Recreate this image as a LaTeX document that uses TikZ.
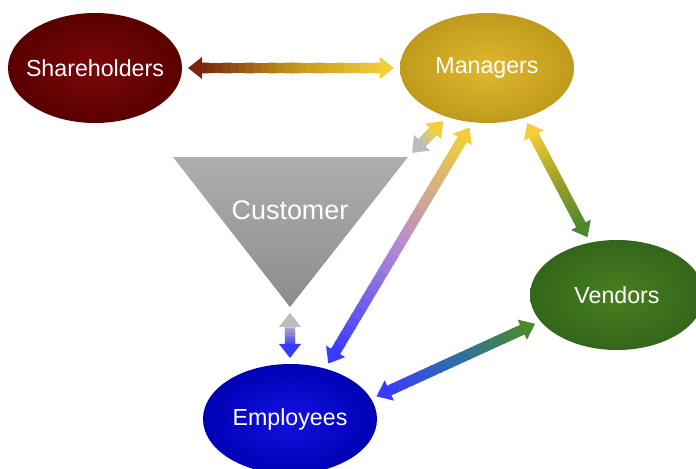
\documentclass[tikz,border=0pt]{standalone}
\usepackage{fontspec}
\setmainfont{Liberation Sans}
\usetikzlibrary{calc,shapes.geometric}
\definecolor{shIn}{HTML}{7A0808}
\definecolor{shOut}{HTML}{5A0000}
\definecolor{mgIn}{HTML}{DEB82E}
\definecolor{mgOut}{HTML}{C09A1C}
\definecolor{veIn}{HTML}{487F20}
\definecolor{veOut}{HTML}{33661A}
\definecolor{emIn}{HTML}{1212E2}
\definecolor{emOut}{HTML}{0000B4}
\definecolor{cuTop}{HTML}{AEAEAE}
\definecolor{cuBot}{HTML}{8C8C8C}
\definecolor{arBrown}{HTML}{7A2410}
\definecolor{arOchre}{HTML}{C2921A}
\definecolor{arGold}{HTML}{F2CE3A}
\definecolor{arGray}{HTML}{BCBCBC}
\definecolor{arBlue}{HTML}{3A3AFF}
\definecolor{arViolet}{HTML}{B48CD2}
\definecolor{arOlive}{HTML}{A0A026}
\definecolor{arTeal}{HTML}{2E6EA8}
\definecolor{arGreen}{HTML}{4A8A2E}
\tikzset{
	bubble/.style={ellipse, minimum width=5.22cm, minimum height=3.3cm, inner xsep=-0.5cm, inner ysep=0pt, text=white, font=\fontsize{19.8}{23}\selectfont},
	lbl/.style={text=white, font=\fontsize{23}{27}\selectfont},
	shaft/.style={line width=9pt}
}
% double arrow with a colour run: from, to, start colour, middle colour, end colour
\newcommand{\gradlink}[5]{%
	\coordinate (ga) at ($(#1)!5pt!(#2)$);
	\coordinate (gb) at ($(#2)!5pt!(#1)$);
	\coordinate (gas) at ($(ga)!10pt!(gb)$);
	\coordinate (gbs) at ($(gb)!10pt!(ga)$);
	\coordinate (gm) at ($(ga)!0.5!(gb)$);
	\foreach \k in {0,...,11}{
		\pgfmathsetmacro\pc{100*(\k+0.5)/12}
		\pgfmathsetmacro\ta{\k/12}
		\pgfmathsetmacro\tb{(\k+1.2)/12}
		\draw[shaft, #4!\pc!#3] ($(gas)!\ta!(gm)$) -- ($(gas)!\tb!(gm)$);
		\draw[shaft, #5!\pc!#4] ($(gm)!\ta!(gbs)$) -- ($(gm)!\tb!(gbs)$);
	}
	\coordinate (gta) at ($(ga)!12pt!(gb)$);
	\coordinate (gtb) at ($(gb)!12pt!(ga)$);
	\fill[#3] (ga) -- ($(gta)!9.5pt!90:(gb)$) -- ($(gta)!9.5pt!-90:(gb)$) -- cycle;
	\fill[#5] (gb) -- ($(gtb)!9.5pt!90:(ga)$) -- ($(gtb)!9.5pt!-90:(ga)$) -- cycle;
}

\begin{document}
\begin{tikzpicture}[x=0.03cm, y=-0.03cm]
\fill[white] (0,0) rectangle (696,468);
\path[use as bounding box] (0,0) rectangle (696,468);
\clip (0,0) rectangle (696,468);

\node[bubble, inner color=shIn, outer color=shOut] (sh) at (95,68) {Shareholders};
\node[bubble, inner color=mgIn, outer color=mgOut] (mgr) at (487,68) {Managers};
\node[bubble, inner color=veIn, outer color=veOut] (ven) at (617,295) {Vendors};
\node[bubble, inner color=emIn, outer color=emOut] (emp) at (290,419) {Employees};

% customer triangle
\coordinate (custL) at (173,157);
\coordinate (custR) at (408,157);
\coordinate (custA) at (290,307);
\shade[top color=cuTop, bottom color=cuBot] (custL) -- (custR) -- (custA) -- cycle;
\node[lbl] (cust) at (290,210) {Customer};

\gradlink{sh.0}{mgr.180}{arBrown}{arOchre}{arGold}
\gradlink{custR}{mgr.231}{arGray}{arGray!50!arGold}{arGold}
\gradlink{emp.55}{mgr.255}{arBlue}{arViolet}{arGold}
\gradlink{mgr.307}{ven.117}{arGold}{arOlive}{arGreen}
\gradlink{custA}{emp.90}{arGray}{arGray!50!arBlue}{arBlue}
\gradlink{emp.14}{ven.199}{arBlue}{arTeal}{arGreen}
\end{tikzpicture}
\end{document}
